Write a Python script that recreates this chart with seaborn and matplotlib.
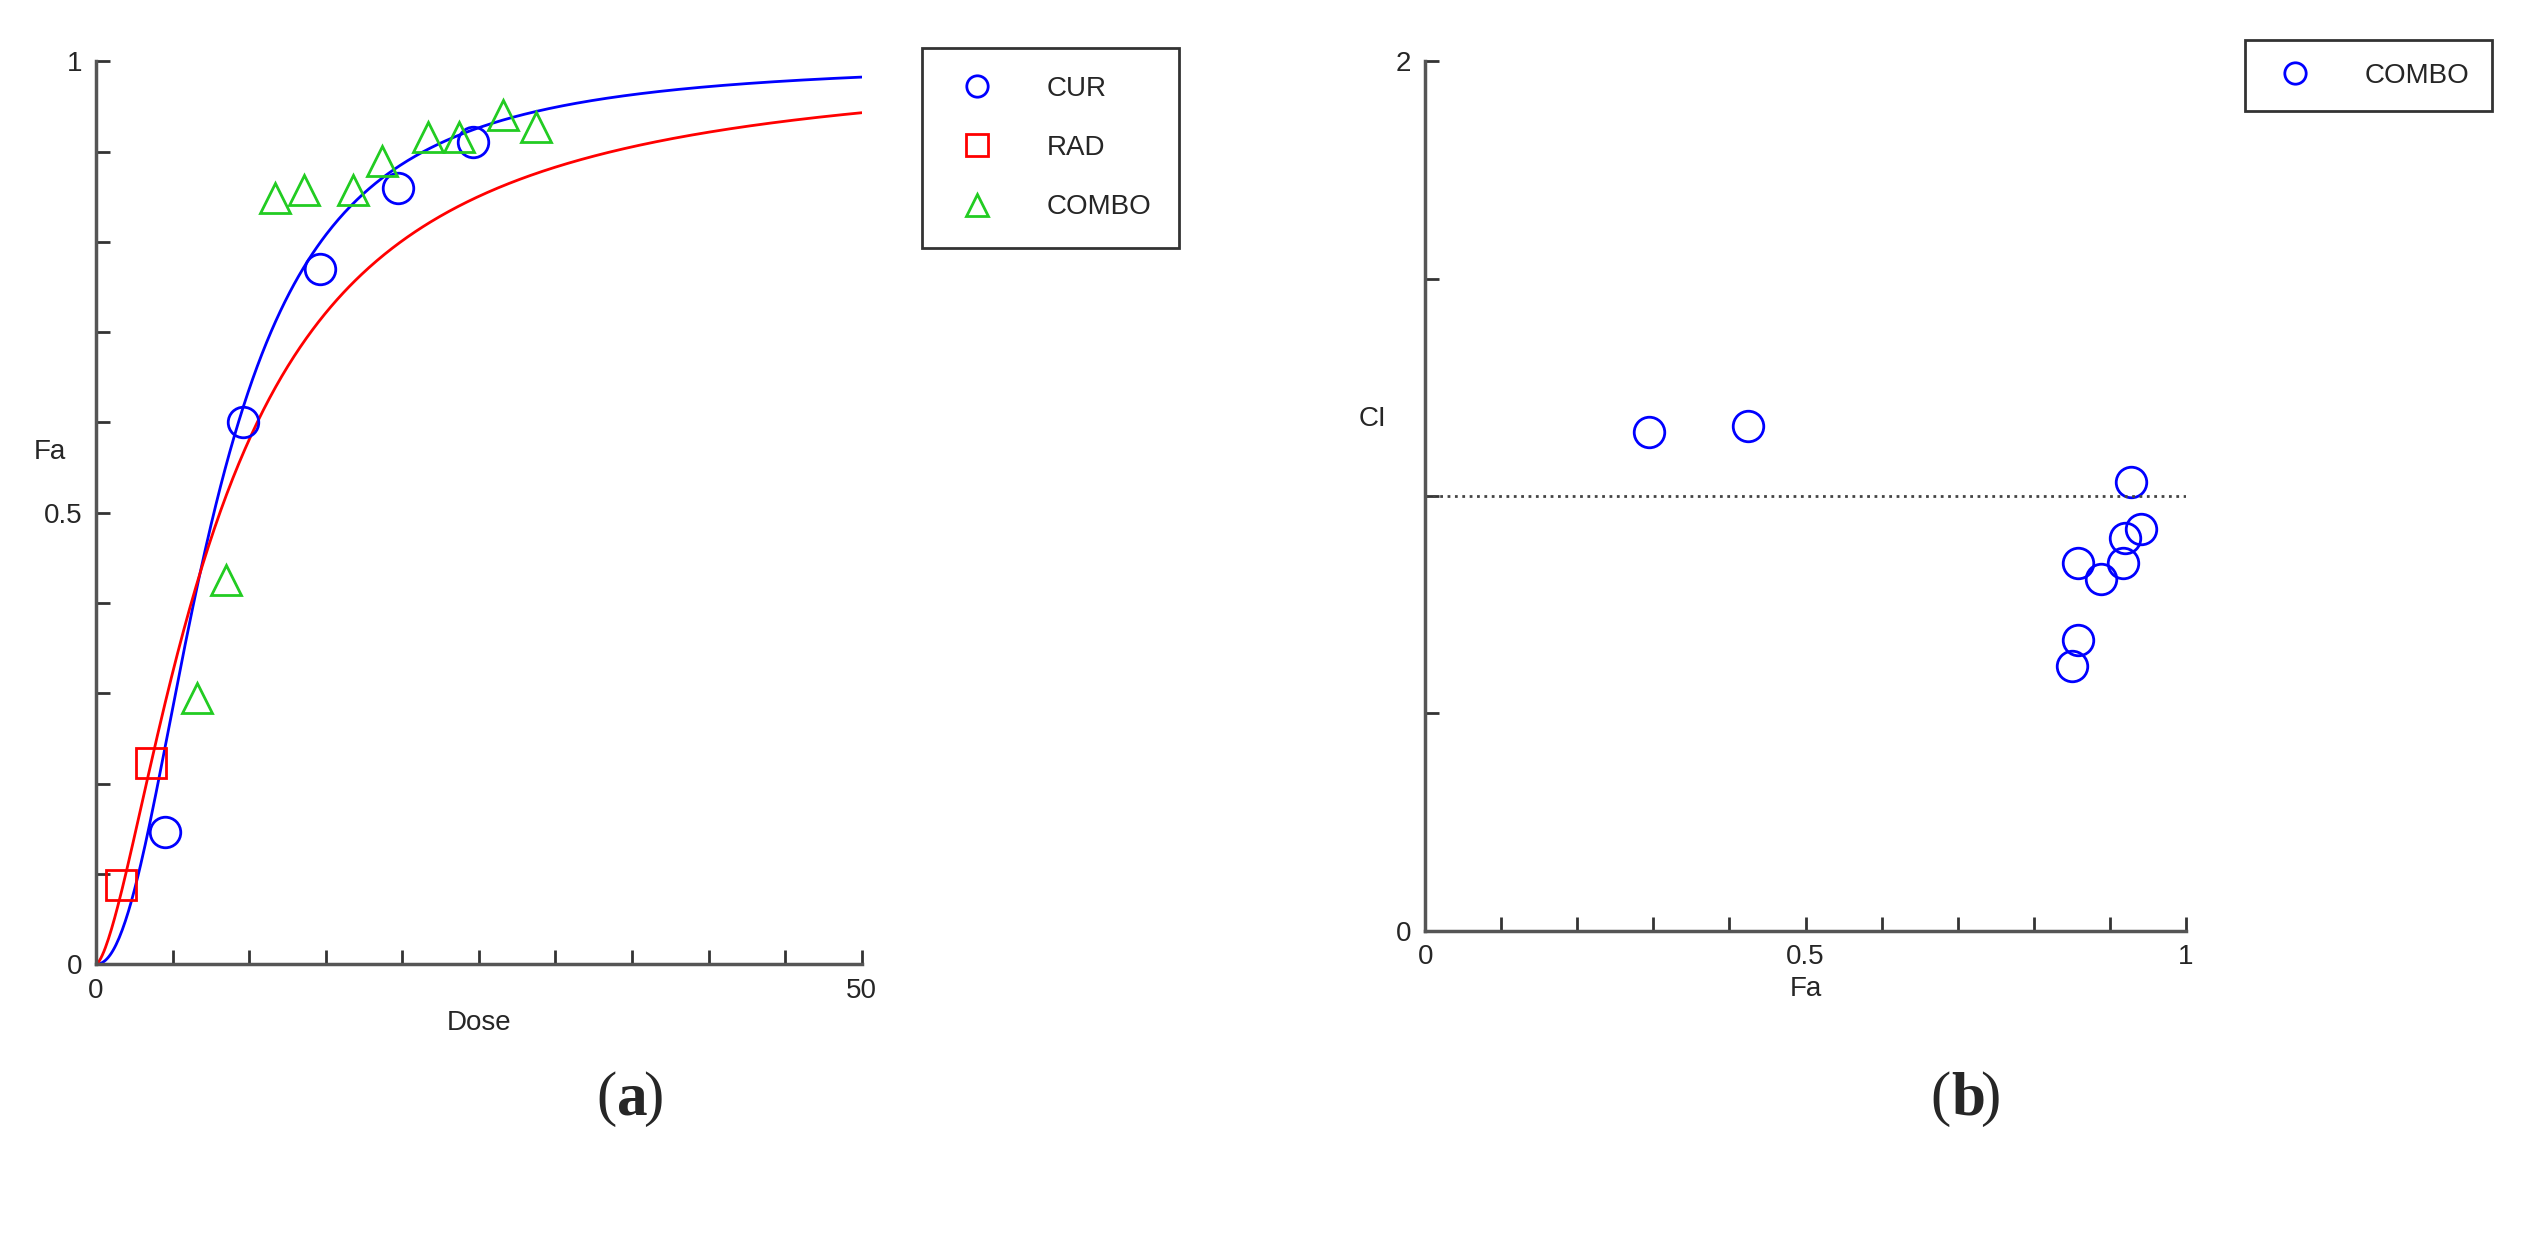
import numpy as np
import matplotlib
matplotlib.use("Agg")
import matplotlib.pyplot as plt
import seaborn as sns
import pandas as pd

sns.set_style("white")
plt.rcParams['font.family'] = ['Liberation Sans', 'DejaVu Sans']

cur_dose = [4.5, 9.6, 14.6, 19.7, 24.6]
cur_fa = [0.146, 0.60, 0.77, 0.86, 0.91]
rad_dose = [1.6, 3.6]
rad_fa = [0.088, 0.223]
combo_dose = [6.6, 8.5, 11.7, 13.6, 16.8, 18.7, 21.7, 23.7, 26.6, 28.7]
combo_fa = [0.295, 0.425, 0.848, 0.857, 0.857, 0.889, 0.916, 0.916, 0.94, 0.927]
# median-effect fit parameters (Dm, m)
cur_fit = (7.7, 2.15)
rad_fit = (8.09, 1.54)

ci_fa = [0.294, 0.425, 0.928, 0.920, 0.941, 0.858, 0.918, 0.888, 0.858, 0.850]
ci_val = [1.147, 1.161, 1.032, 0.902, 0.924, 0.846, 0.846, 0.809, 0.668, 0.608]

fig = plt.figure(figsize=(25.27, 12.49), dpi=100)
ax1 = fig.add_axes([0.038, 0.228, 0.303, 0.723])
ax2 = fig.add_axes([0.564, 0.255, 0.301, 0.696])

d = np.linspace(0.01, 50, 500)
for (dm, m), col in [(cur_fit, 'blue'), (rad_fit, 'red')]:
    ax1.plot(d, 1 / (1 + (dm / d) ** m), color=col, lw=2)

ms = 22
df_c = pd.DataFrame({'x': cur_dose, 'y': cur_fa})
df_r = pd.DataFrame({'x': rad_dose, 'y': rad_fa})
df_m = pd.DataFrame({'x': combo_dose, 'y': combo_fa})
ax1.plot(df_c.x, df_c.y, 'o', ms=ms, mfc='none', mec='blue', mew=2, label='CUR')
ax1.plot(df_r.x, df_r.y, 's', ms=ms, mfc='none', mec='red', mew=2, label='RAD')
ax1.plot(df_m.x, df_m.y, '^', ms=ms, mfc='none', mec='#22cc22', mew=2, label='COMBO')
ax1.set_xlim(0, 50)
ax1.set_ylim(0, 1)
ax1.set_xticks(np.arange(0, 51, 5))
ax1.set_xticklabels(['0'] + [''] * 9 + ['50'])
ax1.set_yticks(np.arange(0, 1.01, 0.1))
ax1.set_yticklabels(['0', '', '', '', '', '0.5', '', '', '', '', '1'])
ax1.set_xlabel('Dose', fontsize=20)
ax1.text(-0.06, 0.56, 'Fa', transform=ax1.transAxes, fontsize=20, ha='center')
ax1.legend(loc='upper left', bbox_to_anchor=(1.06, 1.03), fontsize=20, frameon=True,
           fancybox=False, edgecolor='black', borderpad=1.0, labelspacing=1.2,
           handletextpad=1.5, markerscale=0.7).get_frame().set_linewidth(2)

ax2.plot(ci_fa, ci_val, 'o', ms=ms, mfc='none', mec='blue', mew=2, label='COMBO')
ax2.axhline(1.0, color='#444444', ls=':', lw=2)
ax2.set_xlim(0, 1)
ax2.set_ylim(0, 2)
ax2.set_xticks(np.arange(0, 1.01, 0.1))
ax2.set_xticklabels(['0', '', '', '', '', '0.5', '', '', '', '', '1'])
ax2.set_yticks([0, 0.5, 1, 1.5, 2])
ax2.set_yticklabels(['0', '', '', '', '2'])
ax2.set_xlabel('Fa', fontsize=20)
ax2.text(-0.07, 0.58, 'CI', transform=ax2.transAxes, fontsize=20, ha='center')
ax2.legend(loc='upper left', bbox_to_anchor=(1.06, 1.04), fontsize=20, frameon=True,
           fancybox=False, edgecolor='black', borderpad=0.8,
           handletextpad=1.5, markerscale=0.7).get_frame().set_linewidth(2)

for ax in (ax1, ax2):
    sns.despine(ax=ax)
    for s in ('left', 'bottom'):
        ax.spines[s].set_color('#555555')
        ax.spines[s].set_linewidth(2.5)
    ax.tick_params(bottom=True, left=True, direction='in', length=10, width=2,
                   labelsize=20, color='#333333', pad=10)

ly = 0.12
fig.text(0.244, ly, '(', fontsize=44, family='Liberation Serif', ha='right', va='center')
fig.text(0.244, ly, 'a', fontsize=44, family='Liberation Serif', weight='bold', ha='left', va='center')
fig.text(0.2545, ly, ')', fontsize=44, family='Liberation Serif', ha='left', va='center')
fig.text(0.772, ly, '(', fontsize=44, family='Liberation Serif', ha='right', va='center')
fig.text(0.772, ly, 'b', fontsize=44, family='Liberation Serif', weight='bold', ha='left', va='center')
fig.text(0.7835, ly, ')', fontsize=44, family='Liberation Serif', ha='left', va='center')

fig.savefig('out.png', dpi=100)
